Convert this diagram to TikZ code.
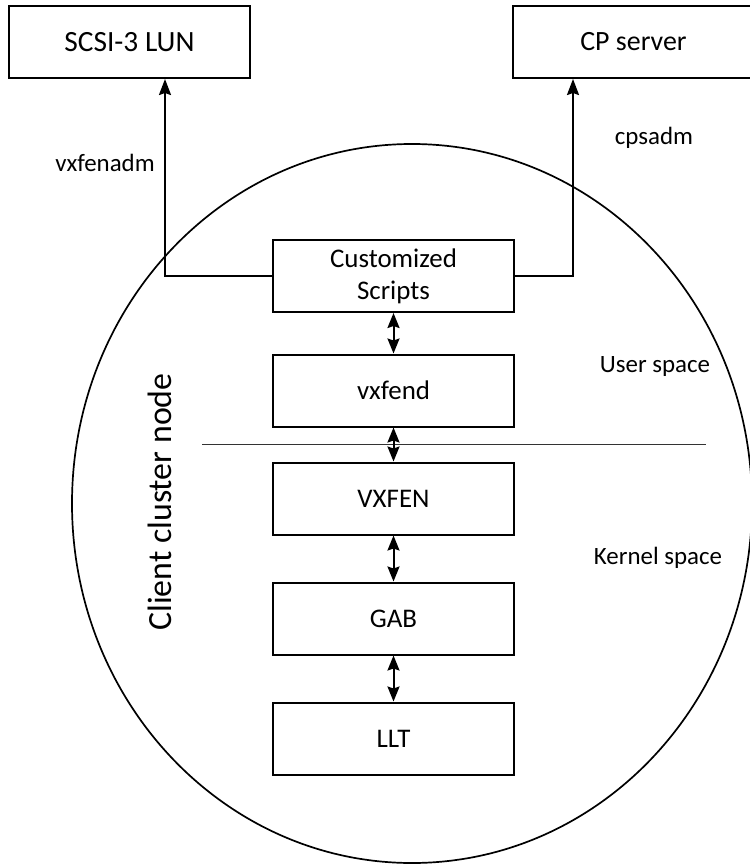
\documentclass[tikz,border=0pt]{standalone}
\usepackage{fontspec}
\setmainfont{Carlito}
\usetikzlibrary{arrows.meta}
\begin{document}
\begin{tikzpicture}[x=1bp,y=-1bp,
  box/.style={draw,line width=2bp,minimum width=241bp,minimum height=72bp,inner sep=0pt,font=\fontsize{27}{32}\selectfont,align=center},
  lbl/.style={font=\fontsize{25}{30}\selectfont,inner sep=0pt},
  conn/.style={line width=2bp,-{Stealth[length=16bp,width=12bp,inset=2bp]}},
  dbl/.style={line width=2bp,{Stealth[length=15bp,width=12bp,inset=2bp]}-{Stealth[length=15bp,width=12bp,inset=2bp]}}
]
\useasboundingbox (0,0) rectangle (750,864);
% client cluster node ellipse
\draw[line width=1.7bp] (412,503.5) ellipse [x radius=340bp, y radius=359.5bp];
% separator
\draw[line width=0.9bp,black!80] (202,444) coordinate (sepL) -- (706,444) coordinate (sepR);
% top boxes
\node[box,font=\fontsize{29.5}{32}\selectfont] (scsi) at (129.5,42) {SCSI-3 LUN};
\node[box,font=\fontsize{28}{32}\selectfont] (cps) at (633.5,42) {CP server};
% stack
\node[box] (scripts) at (393.5,276) {Customized\\Scripts};
\node[box] (vxfend) at (393.5,390.5) {vxfend};
\node[box] (vxfen) at (393.5,498.5) {VXFEN};
\node[box] (gab) at (393.5,618.5) {GAB};
\node[box] (llt) at (393.5,738.5) {LLT};
% connectors to top boxes
\coordinate (lcorner) at (165,276);
\coordinate (rcorner) at (573,276);
\draw[conn] (scripts.west) -- (lcorner) -- (lcorner |- scsi.south);
\draw[conn] (scripts.east) -- (rcorner) -- (rcorner |- cps.south);
% double arrows
\draw[dbl] (scripts.south) -- (vxfend.north);
\draw[dbl] (vxfend.south) -- (vxfen.north);
\draw[dbl] (vxfen.south) -- (gab.north);
\draw[dbl] (gab.south) -- (llt.north);
% labels
\node[lbl] (ladm) at (105,163) {vxfenadm};
\node[lbl] (lcps) at (654,138) {cpsadm};
\node[lbl] (luser) at (655,367) {User space};
\node[lbl] (lkern) at (658,558) {Kernel space};
\node[font=\fontsize{34}{40}\selectfont,rotate=90,inner sep=0pt] (lclient) at (160,502) {Client cluster node};
\end{tikzpicture}
\end{document}
